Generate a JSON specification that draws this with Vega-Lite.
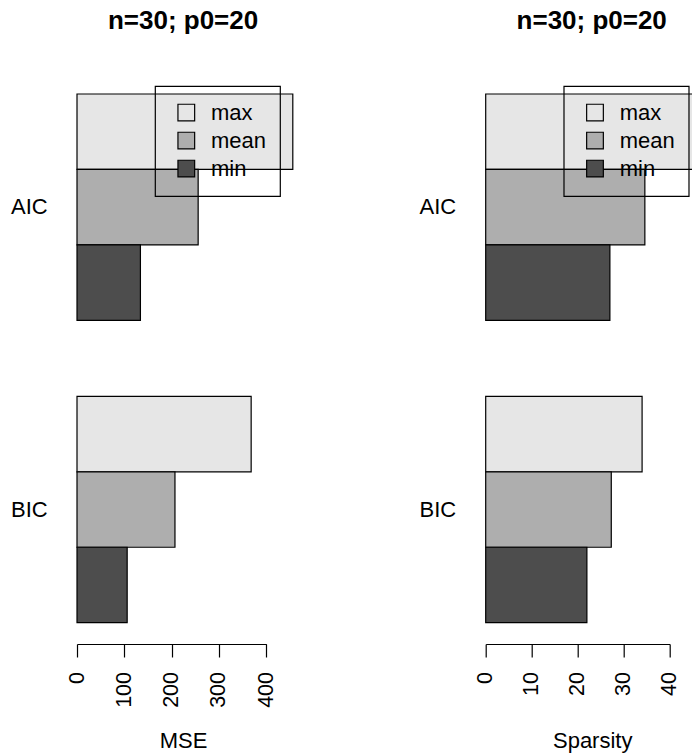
{
  "$schema": "https://vega.github.io/schema/vega-lite/v6.json",
  "padding": {"left": 10, "top": 7, "right": 0, "bottom": 0},
  "background": "white",
  "data": {"values": [
    {"crit": "AIC", "stat": "max", "mse": 456, "sparsity": 47},
    {"crit": "AIC", "stat": "mean", "mse": 256, "sparsity": 34.6},
    {"crit": "AIC", "stat": "min", "mse": 134, "sparsity": 27.0},
    {"crit": "BIC", "stat": "max", "mse": 368, "sparsity": 34.0},
    {"crit": "BIC", "stat": "mean", "mse": 207, "sparsity": 27.3},
    {"crit": "BIC", "stat": "min", "mse": 106, "sparsity": 22.0}
  ]},
  "config": {
    "font": "Liberation Sans",
    "view": {"stroke": null},
    "axis": {"domainColor": "black", "tickColor": "black", "labelColor": "black", "titleColor": "black", "domainWidth": 1.2, "tickWidth": 1.2, "titleFontWeight": "normal", "titleFontSize": 22, "labelFontSize": 21.5, "grid": false},
    "legend": {"strokeColor": "black", "strokeWidth": 1.2, "padding": 13, "symbolOffset": 7.3, "symbolType": "square", "symbolSize": 279, "symbolStrokeColor": "black", "symbolStrokeWidth": 1.2, "labelFontSize": 22, "labelOffset": 13.7, "clipHeight": 27.2, "rowPadding": 0, "labelColor": "black", "labelLimit": 300, "cornerRadius": 0}
  },
  "bounds": "flush",
  "spacing": 218.7,
  "resolve": {"legend": {"fill": "independent"}},
  "hconcat": [
    {
      "width": 189.3,
      "height": 528.7,
      "title": {"text": "n=30; p0=20", "fontSize": 26, "fontWeight": "bold", "frame": "group", "anchor": "middle", "dx": 11.4, "baseline": "alphabetic", "offset": 30.5, "color": "black"},
      "mark": {"type": "bar", "stroke": "black", "strokeWidth": 1.2},
      "encoding": {
        "y": {"field": "crit", "type": "nominal", "sort": ["AIC", "BIC"], "scale": {"paddingInner": 0.2514, "paddingOuter": 0}, "axis": {"title": null, "domain": false, "ticks": false, "labelPadding": 29.8, "labelFontSize": 22, "labelAngle": 0}},
        "yOffset": {"field": "stat", "type": "nominal", "sort": ["max", "mean", "min"], "scale": {"paddingInner": 0, "paddingOuter": 0}},
        "x": {"field": "mse", "type": "quantitative", "scale": {"domain": [0, 400], "nice": false, "zero": true}, "axis": {"title": "MSE", "values": [0, 100, 200, 300, 400], "labelAngle": 270, "offset": 21.3, "tickSize": 13, "labelPadding": 14.5, "titleX": 106, "titleY": 104, "titleBaseline": "alphabetic", "titleAnchor": "middle", "titleAlign": "center"}},
        "fill": {"field": "stat", "type": "nominal", "sort": ["max", "mean", "min"], "scale": {"domain": ["max", "mean", "min"], "range": ["#E6E6E6", "#AEAEAE", "#4D4D4D"]}, "legend": {"title": null, "orient": "none", "legendX": 78, "legendY": -8}}
      }
    },
    {
      "width": 184,
      "height": 528.7,
      "title": {"text": "n=30; p0=20", "fontSize": 26, "fontWeight": "bold", "frame": "group", "anchor": "middle", "dx": 14, "baseline": "alphabetic", "offset": 30.5, "color": "black"},
      "mark": {"type": "bar", "stroke": "black", "strokeWidth": 1.2},
      "encoding": {
        "y": {"field": "crit", "type": "nominal", "sort": ["AIC", "BIC"], "scale": {"paddingInner": 0.2514, "paddingOuter": 0}, "axis": {"title": null, "domain": false, "ticks": false, "labelPadding": 30, "labelFontSize": 22, "labelAngle": 0}},
        "yOffset": {"field": "stat", "type": "nominal", "sort": ["max", "mean", "min"], "scale": {"paddingInner": 0, "paddingOuter": 0}},
        "x": {"field": "sparsity", "type": "quantitative", "scale": {"domain": [0, 40], "nice": false, "zero": true}, "axis": {"title": "Sparsity", "values": [0, 10, 20, 30, 40], "labelAngle": 270, "offset": 21.3, "tickSize": 13, "labelPadding": 14.5, "titleX": 106.5, "titleY": 104, "titleBaseline": "alphabetic", "titleAnchor": "middle", "titleAlign": "center"}},
        "fill": {"field": "stat", "type": "nominal", "sort": ["max", "mean", "min"], "scale": {"domain": ["max", "mean", "min"], "range": ["#E6E6E6", "#AEAEAE", "#4D4D4D"]}, "legend": {"title": null, "orient": "none", "legendX": 78, "legendY": -8}}
      }
    }
  ]
}
